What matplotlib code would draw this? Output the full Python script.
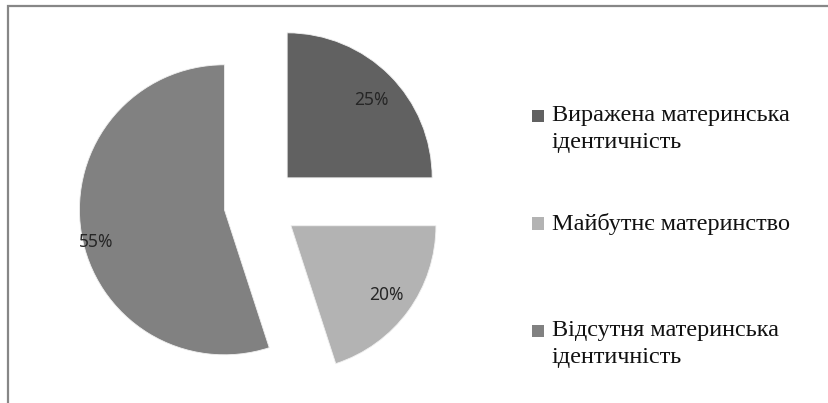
import matplotlib
matplotlib.use("Agg")
import matplotlib.pyplot as plt
from matplotlib.patches import Rectangle
import numpy as np

# ---- data ----
categories = ["Виражена материнська\nідентичність",
              "Майбутнє материнство",
              "Відсутня материнська\nідентичність"]
values = [25, 20, 55]
colors = ["#616161", "#b3b3b3", "#818181"]
pct_dist = [0.79, 0.81, 0.91]
pct_rot = [-2, 0, 5]  # small angular shift of label along the arc (degrees)

W, H = 829, 403
fig = plt.figure(figsize=(W / 100, H / 100), dpi=100)
ax = fig.add_axes([0, 0, 1, 1])

R = 145
center = (261, H - 204)
wedges, _ = ax.pie(values, colors=colors, startangle=90, counterclock=False,
                   radius=R, center=center, explode=[37] * len(values),
                   wedgeprops=dict(edgecolor="#f0f0f0", linewidth=0.6),
                   frame=True)
ax.set_xlim(0, W)
ax.set_ylim(0, H)
ax.set_aspect("equal")
ax.axis("off")

# chart border (top and left visible)
ax.plot([8, 8, W + 5], [-5, H - 6, H - 6], color="#878787", lw=1.6,
        solid_capstyle="butt", solid_joinstyle="miter")

for w, v, d, dr in zip(wedges, values, pct_dist, pct_rot):
    th = np.deg2rad(0.5 * (w.theta1 + w.theta2) + dr)
    cx, cy = w.center
    ax.text(cx + d * w.r * np.cos(th), cy + d * w.r * np.sin(th), f"{v}%",
            ha="center", va="center", fontsize=12.5, family="Noto Sans",
            color="#262626")

# legend
leg_baselines = [122, 230, 337]
for lab, col, base in zip(categories, colors, leg_baselines):
    ax.add_patch(Rectangle((532, H - base), 12.5, 12.5, facecolor=col,
                           edgecolor="none"))
    ax.text(552, H - base + 17, lab, ha="left", va="top", fontsize=17.5,
            family="Liberation Serif", color="#111111", linespacing=1.38)

fig.savefig("out.png", dpi=100, facecolor="white")
